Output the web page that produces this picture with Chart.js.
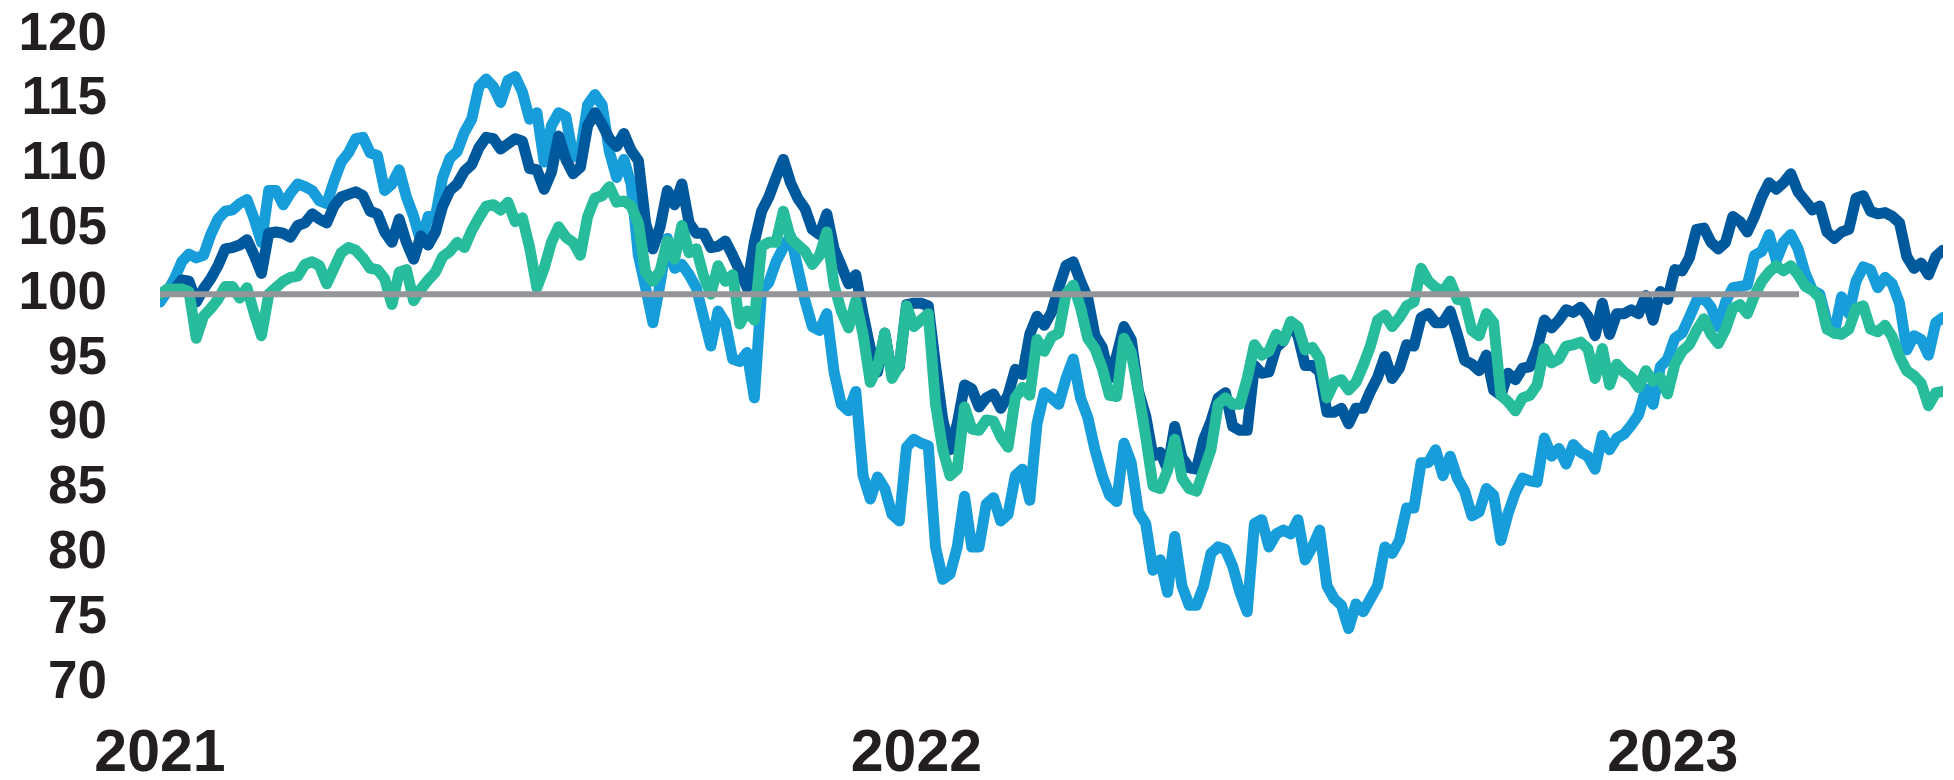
<!DOCTYPE html>
<html>
<head>
<meta charset="utf-8">
<script src="https://cdn.jsdelivr.net/npm/chart.js@4.4.0/dist/chart.umd.min.js"></script>
<style>
  html, body { margin: 0; padding: 0; background: #ffffff; }
  #wrap { width: 1954px; height: 780px; position: relative; }
</style>
</head>
<body>
<div id="wrap"><canvas id="chart" width="1954" height="780"></canvas></div>
<script>
// Twice-weekly index levels, rebased to 100 at the start of 2021
const startYear = 2021;
const stepYears = 3.5 / 365.25;
const yearTicks = [2021, 2022, 2023];
const yTicks = [70, 75, 80, 85, 90, 95, 100, 105, 110, 115, 120];

const seriesNavy = [
  100, 100.3, 100.4, 101.1, 101, 99.4, 100.4, 101.2, 102.2, 103.5,
  103.6, 103.8, 104.2, 103, 101.6, 104.7, 104.8, 104.7, 104.4, 105.3,
  105.5, 106.2, 105.8, 105.5, 106.8, 107.5, 107.7, 107.9, 107.6, 106.4,
  106.2, 104.8, 104, 105.8, 104, 102.7, 104.5, 103.8, 104.8, 106.8,
  108, 108.5, 109.5, 110, 111.3, 112.1, 112, 111.2, 111.6, 112,
  111.8, 109.7, 109.6, 108.1, 109.4, 112.2, 110.4, 109.3, 109.8, 113,
  114, 113.1, 112, 111.4, 112.4, 111.1, 110.3, 105.5, 103.5, 105.2,
  108, 106.9, 108.5, 105.5, 104.7, 104.7, 103.6, 103.7, 104.1, 103,
  101.8, 100.5, 104, 106.4, 107.5, 109, 110.4, 108.6, 107.4, 106.6,
  105, 104.6, 106.2, 103.5, 102.2, 100.8, 101.5, 98.5, 95.8, 94,
  97, 93.8, 94.4, 99.2, 99.3, 99.3, 99.1, 94.5, 90.3, 88,
  90, 93, 92.7, 91.3, 92, 92.3, 91.2, 92.2, 94.2, 93.8,
  96.9, 98.3, 97.6, 98.6, 100.5, 102.2, 102.5, 101, 99.7, 96.8,
  95.9, 93.5, 95.3, 97.5, 96.5, 92.5, 90.6, 87.5, 87.8, 86.5,
  89.8, 87.4, 86.6, 86.5, 88.8, 90.2, 92, 92.4, 89.8, 89.5,
  89.5, 94.5, 93.9, 94, 95.9, 96.4, 97.7, 96.8, 94.5, 94.5,
  94, 90.9, 90.9, 91.2, 90, 91.2, 91.2, 92.5, 93.6, 95.2,
  93.5, 94.3, 96.1, 96, 98.2, 98.5, 97.8, 97.8, 98.7, 96.9,
  94.9, 94.6, 94.1, 95.3, 92.6, 92.2, 93.9, 93.4, 94.3, 94.4,
  95.8, 98, 97.4, 98, 98.8, 98.6, 99, 98.3, 96.8, 99.3,
  96.9, 98.5, 98.5, 98.8, 98.5, 99.9, 98, 100.2, 99.6, 101.9,
  101.8, 102.8, 105, 105.1, 104, 103.5, 104, 106, 105.6, 104.8,
  106, 107.5, 108.6, 108.1, 108.6, 109.3, 107.9, 107.2, 106.5, 106.8,
  104.8, 104.3, 104.8, 105, 107.4, 107.6, 106.4, 106.2, 106.3, 106,
  105.5, 102.9, 102, 102.4, 101.5, 102.9, 103.4
];

const seriesSky = [
  99.4, 100.2, 101.2, 102.5, 103.1, 102.8, 103, 104.6, 105.8, 106.4,
  106.5, 107, 107.3, 105.8, 104, 108, 108, 106.9, 107.8, 108.5,
  108.3, 108, 107.2, 107, 108.7, 110.2, 110.9, 112, 112.1, 110.9,
  110.7, 108, 108.5, 109.6, 107.5, 106, 104, 106, 106, 109,
  110.5, 111, 112.5, 113.5, 116, 116.6, 116, 114.8, 116.5, 116.8,
  115.6, 113.5, 114, 110.2, 113, 114, 113.7, 110.6, 111, 114.6,
  115.4, 114.6, 111, 109, 110.4, 108.5, 103, 100.5, 97.8, 100.8,
  104.3, 102, 102.3, 101.5, 100.5, 98.2, 96, 98.7, 97.8, 95,
  94.8, 95.5, 92, 100.3, 100.9, 102.5, 103.6, 104.5, 102, 99.5,
  97.5, 97.2, 98.5, 94, 91.5, 91, 92.5, 86, 84.2, 85.9,
  85, 83, 82.5, 88.2, 88.8, 88.5, 88.3, 80.5, 78, 78.4,
  80.5, 84.4, 80.5, 80.5, 83.8, 84.3, 82.5, 83, 86, 86.5,
  84.1, 90, 92.4, 92, 91.5, 93.5, 95, 92, 90.5, 88,
  86, 84.5, 84, 88.5, 87, 83.2, 82.3, 78.7, 79.5, 77,
  81.3, 77.5, 76, 76, 77.5, 80, 80.5, 80.3, 79, 77,
  75.5, 82.3, 82.6, 80.5, 81.5, 81.8, 81.5, 82.6, 79.5, 80.5,
  81.8, 77.5, 76.5, 76, 74.2, 76.1, 75.5, 76.5, 77.5, 80.5,
  80, 81, 83.5, 83.5, 87, 87, 88, 86, 87.5, 85.8,
  84.8, 82.9, 83.2, 85, 84.5, 81, 83.1, 84.7, 85.8, 85.6,
  85.5, 88.9, 87.5, 88.1, 86.9, 88.4, 87.8, 87.5, 86.5, 89.1,
  88, 88.9, 89.2, 89.9, 90.7, 92.7, 91.5, 94.4, 95, 96.6,
  97, 98.2, 99.5, 99.7, 99, 97.5, 99.4, 100.5, 100.6, 100.7,
  103, 103.3, 104.6, 102.6, 104, 104.6, 103.5, 101.6, 100.3, 100,
  97.8, 97, 99.8, 98.5, 101, 102.1, 101.9, 100.5, 101.3, 100.8,
  99.3, 95.7, 96.8, 96.5, 95.3, 97.8, 98.2
];

const seriesGreen = [
  100, 100.4, 100.4, 100.4, 100.2, 96.6, 98.3, 98.9, 99.6, 100.6,
  100.6, 99.7, 100.5, 98.5, 96.8, 100, 100.5, 101, 101.3, 101.4,
  102.3, 102.5, 102.2, 100.8, 102, 103.2, 103.6, 103.4, 102.8, 102,
  101.9, 101.2, 99.2, 101.7, 101.9, 99.5, 100.4, 101.1, 101.7, 102.9,
  103.3, 104, 103.6, 104.9, 105.9, 106.8, 106.9, 106.5, 107.1, 105.6,
  105.9, 103.6, 100.5, 102, 104, 105.2, 104.4, 104, 103, 106,
  107.4, 107.6, 108.3, 107.1, 107.2, 106.8, 105.5, 101.7, 101, 101.8,
  104.1, 102.7, 105.3, 103.2, 103.5, 101.4, 100, 102.2, 101, 101.5,
  97.7, 98.7, 98, 103.7, 104, 104, 106.4, 104.3, 103.8, 103.3,
  102.3, 103, 104.8, 100.7, 98.7, 97.4, 99.5, 96.9, 93.2, 94.4,
  97, 93.5, 94.5, 99.1, 97.5, 98, 98.5, 91.5, 88, 86,
  86.5, 91.3, 89.6, 89.5, 90.3, 90.2, 89, 88.2, 92, 92.8,
  92.2, 96.5, 95.6, 96.7, 97, 100, 100.7, 99, 96.6, 95.8,
  94.3, 92.2, 92.1, 96.6, 95.5, 92.4, 89, 85.2, 85, 86.4,
  88.8, 85.8, 85, 84.8, 86.4, 88, 91.5, 92, 91.5, 91.5,
  93.5, 96.1, 95.3, 95.6, 96.9, 96.4, 97.9, 97.5, 95.7, 95.9,
  95, 92, 93.2, 93.4, 92.6, 93.2, 94.5, 96, 98, 98.4,
  97.5, 98.2, 99.1, 99.4, 102, 101, 100.5, 100.2, 101, 99.6,
  99.5, 97.2, 96.8, 98.5, 97.8, 92.2, 91.7, 91, 92, 92.2,
  93, 95.8, 94.7, 95, 96, 96.1, 96.3, 95.8, 93.5, 95.8,
  93, 94.6, 94, 93.6, 92.8, 94.1, 93.3, 93.6, 92.3, 94.6,
  95.6, 96.1, 97.2, 98.1, 96.9, 96.2, 97.3, 98.9, 99.2, 98.5,
  99.9, 101, 101.7, 102.2, 101.8, 102.2, 101.5, 100.6, 100.3, 99.7,
  97.3, 97, 96.9, 97.3, 98.9, 99.1, 97.3, 97.1, 97.6, 96.7,
  95.2, 94.1, 93.7, 93.1, 91.4, 92.4, 92.5
];

// Reference level line at 100
const baselineLevel = 100;
const baselineSpan = [2021, 2023.167];

const toPoints = (values) => values.map((v, i) => ({ x: startYear + i * stepYears, y: v }));
const lastX = startYear + (seriesNavy.length - 1) * stepYears;

const lineStyle = {
  pointRadius: 0,
  pointHoverRadius: 0,
  borderWidth: 11,
  tension: 0,
  borderJoinStyle: 'round',
  borderCapStyle: 'round',
  fill: false
};

const labelColor = '#231f20';
const labelFamily = '"Liberation Sans", Arial, Helvetica, sans-serif';

new Chart(document.getElementById('chart'), {
  type: 'line',
  data: {
    datasets: [
      Object.assign({ label: 'Baseline', data: baselineSpan.map(x => ({ x, y: baselineLevel })),
        borderColor: '#939598', order: 0 }, lineStyle, { borderWidth: 6, borderCapStyle: 'butt' }),
      Object.assign({ label: 'Series C', data: toPoints(seriesGreen), borderColor: '#27bc9b', order: 1 }, lineStyle),
      Object.assign({ label: 'Series A', data: toPoints(seriesNavy), borderColor: '#00589d', order: 2 }, lineStyle),
      Object.assign({ label: 'Series B', data: toPoints(seriesSky), borderColor: '#179dd9', order: 3 }, lineStyle)
    ]
  },
  options: {
    responsive: false,
    animation: false,
    devicePixelRatio: 1,
    layout: { padding: { top: 35, right: 11, bottom: 0, left: 0 } },
    plugins: { legend: { display: false }, tooltip: { enabled: false } },
    scales: {
      x: {
        type: 'linear',
        min: startYear,
        max: lastX,
        grid: { display: false, drawTicks: false },
        border: { display: false },
        afterBuildTicks: (scale) => { scale.ticks = yearTicks.map(v => ({ value: v })); },
        afterFit: (scale) => {
          scale.height = 97;
          scale.paddingLeft = 0;
          scale.paddingRight = 0;
        },
        ticks: {
          autoSkip: false,
          maxRotation: 0,
          padding: 36,
          color: labelColor,
          font: { family: labelFamily, size: 59, weight: 'bold' },
          callback: (v) => String(v)
        }
      },
      y: {
        min: 70,
        max: 120,
        grid: { display: false, drawTicks: false },
        border: { display: false },
        afterBuildTicks: (scale) => { scale.ticks = yTicks.map(v => ({ value: v })); },
        afterFit: (scale) => {
          scale.width = 160;
          scale.paddingTop = 0;
          scale.paddingBottom = 0;
        },
        ticks: {
          autoSkip: false,
          padding: 53,
          color: labelColor,
          font: { family: labelFamily, size: 53, weight: 'bold' },
          callback: (v) => String(v)
        }
      }
    }
  }
});
</script>
</body>
</html>
